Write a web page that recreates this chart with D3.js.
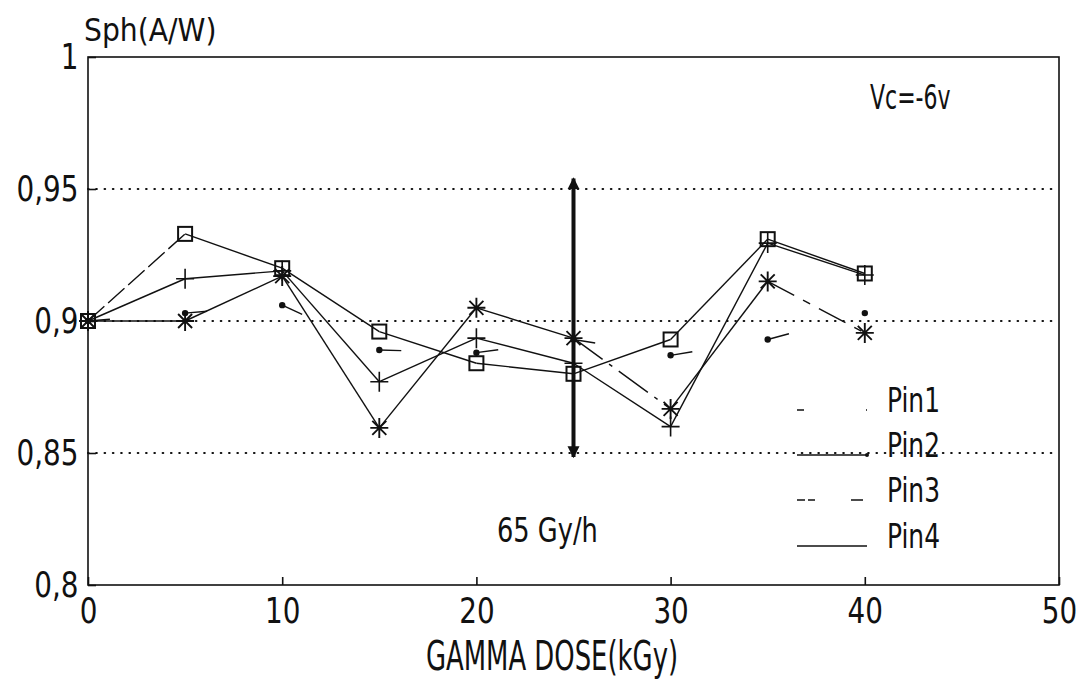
<!DOCTYPE html>
<html>
<head>
<meta charset="utf-8">
<script src="https://cdn.jsdelivr.net/npm/d3@7"></script>
<style>
  body { margin: 0; background: #fff; }
  text { font-family: "Liberation Sans Narrow", "DejaVu Sans Condensed", sans-serif; fill: #111; }
</style>
</head>
<body>
<div id="chart"></div>
<script>
// dose steps (kGy)
const dose = [0, 5, 10, 15, 20, 25, 30, 35, 40];
// responsivity per diode (A/W)
const pin1 = [0.900, 0.903, 0.906, 0.889, 0.888, 0.893, 0.887, 0.893, 0.903];
const pin2 = [0.900, 0.933, 0.920, 0.896, 0.884, 0.880, 0.893, 0.931, 0.918];
const pin3 = [0.900, 0.900, 0.917, 0.8595, 0.905, 0.8935, 0.8667, 0.915, 0.8955];
const pin4 = [0.900, 0.916, 0.919, 0.877, 0.8935, 0.884, 0.860, 0.9295, 0.9174];
const seriesNames = ["Pin1", "Pin2", "Pin3", "Pin4"];
const xTicks = [0, 10, 20, 30, 40, 50];
const yTicks = [0.8, 0.85, 0.9, 0.95, 1];
const gridValues = [0.85, 0.9, 0.95];
const markDose = 25;               // dose where the rate arrow sits
const markRange = [0.8485, 0.954]; // arrow extent
const rateLabel = "65 Gy/h";
const biasLabel = "Vc=-6v";

const width = 1083, height = 681;
const margin = {top: 57, right: 24, bottom: 96, left: 88};

const svg = d3.select("#chart").append("svg")
  .attr("width", width)
  .attr("height", height);

const x = d3.scaleLinear().domain([0, 50]).range([margin.left, width - margin.right]);
const y = d3.scaleLinear().domain([0.8, 1]).range([height - margin.bottom, margin.top]);

const comma = d => String(d).replace(".", ",");

//plotter font is tall and narrow - squeeze text horizontally
function label(px, py, size, sx, txt, anchor) {
  return svg.append("g")
    .attr("transform", "translate(" + px + "," + py + ") scale(" + sx + ",1)")
    .append("text")
      .attr("text-anchor", anchor || "start")
      .style("font-size", size + "px")
      .text(txt);
}

//dotted reference lines
svg.append("g").selectAll("line")
  .data(gridValues)
  .enter().append("line")
    .attr("x1", x(0)).attr("x2", x(50))
    .attr("y1", d => y(d)).attr("y2", d => y(d))
    .attr("stroke", "#111")
    .attr("stroke-width", 2.2)
    .attr("stroke-linecap", "round")
    .attr("stroke-dasharray", "0.5,7.8");

//axes (inward ticks), frame drawn separately
const xAxis = svg.append("g")
  .attr("transform", "translate(0," + y(0.8) + ")")
  .call(d3.axisBottom(x).tickValues(xTicks).tickSize(-8).tickPadding(12).tickFormat(comma));
const yAxis = svg.append("g")
  .attr("transform", "translate(" + x(0) + ",0)")
  .call(d3.axisLeft(y).tickValues(yTicks).tickSize(-8).tickPadding(11).tickFormat(comma));

[xAxis, yAxis].forEach(function(a){
  a.select(".domain").remove();
  a.selectAll("line").attr("stroke", "#111").attr("stroke-width", 1.6);
  a.selectAll("text")
    .style("font-size", "36px")
    .attr("fill", "#111")
    .attr("transform", "scale(0.86,1)");
});

svg.append("rect")
  .attr("x", x(0)).attr("y", y(1))
  .attr("width", x(50) - x(0)).attr("height", y(0.8) - y(1))
  .attr("fill", "none")
  .attr("stroke", "#111")
  .attr("stroke-width", 1.6);

//axis titles and notes
label(84, 41, 32, 0.98, "Sph(A/W)");
label(552, 670, 40, 0.72, "GAMMA DOSE(kGy)", "middle");
label(870, 109, 34, 0.72, biasLabel);
label(497, 542, 34, 0.84, rateLabel);

//rate arrow
const defs = svg.append("defs");
defs.append("marker")
  .attr("id", "head")
  .attr("viewBox", "0 0 10 10")
  .attr("refX", 9).attr("refY", 5)
  .attr("markerWidth", 3).attr("markerHeight", 4)
  .attr("orient", "auto-start-reverse")
  .append("path").attr("d", "M0,0L10,5L0,10Z").attr("fill", "#111");

svg.append("line")
  .attr("x1", x(markDose)).attr("x2", x(markDose))
  .attr("y1", y(markRange[0])).attr("y2", y(markRange[1]))
  .attr("stroke", "#111")
  .attr("stroke-width", 4)
  .attr("marker-start", "url(#head)")
  .attr("marker-end", "url(#head)");

//series styling: dash per segment ("" = solid)
const series = [
  {name: "Pin1", values: pin1, marker: "dot",      dashes: null},
  {name: "Pin2", values: pin2, marker: "square",   dashes: ["22,5", "", "", "", "", "", "", ""]},
  {name: "Pin3", values: pin3, marker: "asterisk", dashes: ["", "", "", "", "", "36,8,4,8", "", "30,10,8,10"]},
  {name: "Pin4", values: pin4, marker: "plus",     dashes: ["", "", "", "", "", "", "", ""]}
];

const line = d3.line().x(d => x(d[0])).y(d => y(d[1]));

series.forEach(function(s){
  let pts = dose.map((d, i) => [d, s.values[i]]);
  let segs = d3.pairs(pts);
  let g = svg.append("g").attr("class", "series " + s.name);

  g.selectAll("path")
    .data(segs)
    .enter().append("path")
      .attr("d", line)
      .attr("fill", "none")
      .attr("stroke", "#111")
      .attr("stroke-width", 1.4)
      .attr("stroke-dasharray", function(d, i) {
        if (!s.dashes) return "22,2000"; //only a short stub leaves each point
        return s.dashes[i] || null;
      });

  let m = g.selectAll(".pt")
    .data(pts)
    .enter().append("g")
      .attr("class", "pt")
      .attr("transform", d => "translate(" + x(d[0]) + "," + y(d[1]) + ")");

  if (s.marker === "dot") {
    m.append("circle").attr("r", 3.2).attr("fill", "#111");
  } else if (s.marker === "square") {
    m.append("rect").attr("x", -7).attr("y", -7).attr("width", 14).attr("height", 14)
      .attr("fill", "none").attr("stroke", "#111").attr("stroke-width", 2);
  } else if (s.marker === "plus") {
    m.append("path").attr("d", "M-9,0H9M0,-10V10")
      .attr("stroke", "#111").attr("stroke-width", 1.6);
  } else {
    m.append("path").attr("d", "M-9,0H9M0,-10V10M-7,-7L7,7M-7,7L7,-7")
      .attr("stroke", "#111").attr("stroke-width", 1.9);
  }
});

//legend
const legendY = [410, 455, 500, 546];
const legendDash = ["7,62,1.5,10", null, "8,3,7,36,12", null];
const legend = svg.append("g").selectAll("g")
  .data(seriesNames)
  .enter().append("g")
    .attr("transform", (d, i) => "translate(797," + legendY[i] + ")");

legend.append("line")
  .attr("x1", 0).attr("x2", 70)
  .attr("stroke", "#111")
  .attr("stroke-width", 1.5)
  .attr("stroke-dasharray", (d, i) => legendDash[i]);

legend.filter((d, i) => i === 1).append("circle")
  .attr("cx", 70).attr("r", 2).attr("fill", "#111");

legend.append("text")
  .attr("x", 90).attr("y", 2)
  .attr("transform", "scale(0.84,1) translate(" + (90 / 0.84 - 90) + ",0)")
  .style("font-size", "33px")
  .text(d => d);
</script>
</body>
</html>
